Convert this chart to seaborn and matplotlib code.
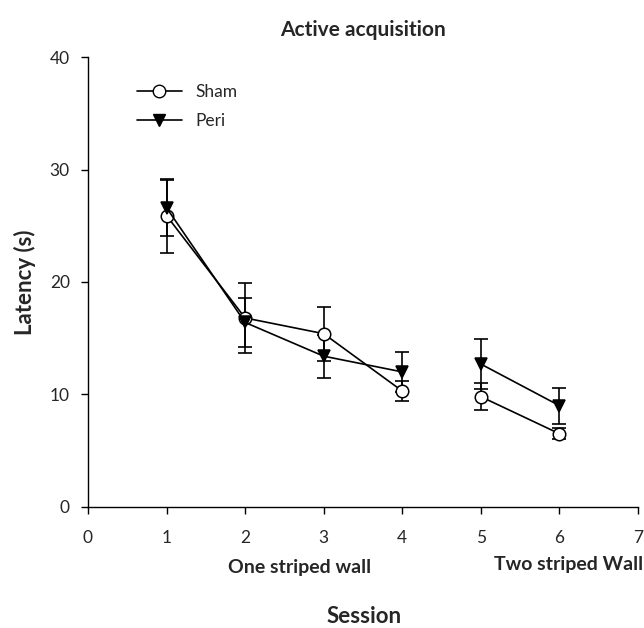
import numpy as np
import pandas as pd
import matplotlib
matplotlib.use("Agg")
import matplotlib.pyplot as plt
from matplotlib.lines import Line2D
import seaborn as sns

# ---------------------------
# Data
# ---------------------------
sessions = [1, 2, 3, 4, 5, 6]
wall = ["one", "one", "one", "one", "two", "two"]

sham_mean = [25.9, 16.8, 15.4, 10.3, 9.8, 6.5]
sham_sem = [3.3, 3.1, 2.4, 0.9, 1.2, 0.5]

peri_mean = [26.6, 16.4, 13.4, 12.0, 12.7, 9.0]
peri_sem = [2.5, 2.2, 1.9, 1.8, 2.2, 1.6]

groups = ["Sham", "Peri"]

df = pd.concat([
    pd.DataFrame({"session": sessions, "wall": wall, "latency": sham_mean,
                  "sem": sham_sem, "group": "Sham"}),
    pd.DataFrame({"session": sessions, "wall": wall, "latency": peri_mean,
                  "sem": peri_sem, "group": "Peri"}),
])

# ---------------------------
# Style
# ---------------------------
sns.set_style("ticks")
plt.rcParams["font.family"] = ["Lato", "DejaVu Sans"]
plt.rcParams["xtick.direction"] = "out"
plt.rcParams["ytick.direction"] = "out"

fig = plt.figure(figsize=(6.44, 6.28), dpi=100)
ax = fig.add_axes([0.1366, 0.193, 0.854, 0.716])

styles = {
    "Sham": dict(marker="o", markerfacecolor="white"),
    "Peri": dict(marker="v", markerfacecolor="black"),
}

for g in groups:
    sub = df[df["group"] == g]
    ax.errorbar(sub["session"], sub["latency"], yerr=sub["sem"], fmt="none",
                ecolor="black", elinewidth=1.2, capsize=5, capthick=1.2, zorder=2)
    for w in ["one", "two"]:
        seg = sub[sub["wall"] == w]
        sns.lineplot(data=seg, x="session", y="latency", ax=ax, color="black",
                     linewidth=1.2, markersize=9, markeredgecolor="black",
                     markeredgewidth=1.1, zorder=3, legend=False, **styles[g])

ax.set_xlim(0, 7)
ax.set_ylim(0, 40)
ax.set_xticks(range(0, 8))
ax.set_yticks([0, 10, 20, 30, 40])
ax.tick_params(axis="both", labelsize=12.5, length=5, width=1, color="black")
ax.tick_params(axis="x", pad=12)
ax.tick_params(axis="y", pad=8)
for s in ["left", "bottom"]:
    ax.spines[s].set_linewidth(1)
    ax.spines[s].set_color("black")
sns.despine(ax=ax)

ax.set_xlabel("")
ax.set_ylabel("Latency (s)", fontsize=16, fontweight="bold", labelpad=10)
ax.set_title("Active acquisition", fontsize=15, fontweight="bold", pad=15)

fig.text(0.465, 0.097, "One striped wall", fontsize=14, fontweight="bold",
         ha="center", va="center")
fig.text(0.999, 0.101, "Two striped Wall", fontsize=14, fontweight="bold",
         ha="right", va="center")
fig.text(0.565, 0.018, "Session", fontsize=16, fontweight="bold",
         ha="center", va="center")

handles = [
    Line2D([0], [0], color="black", lw=1.2, marker="o", markerfacecolor="white",
           markeredgecolor="black", markersize=9),
    Line2D([0], [0], color="black", lw=1.2, marker="v", markerfacecolor="black",
           markeredgecolor="black", markersize=9),
]
ax.legend(handles, groups, loc="upper left", bbox_to_anchor=(0.06, 0.975),
          frameon=False, fontsize=12.5, handlelength=2.6, handletextpad=0.8,
          labelspacing=0.75)

fig.savefig("out.png", dpi=100)
